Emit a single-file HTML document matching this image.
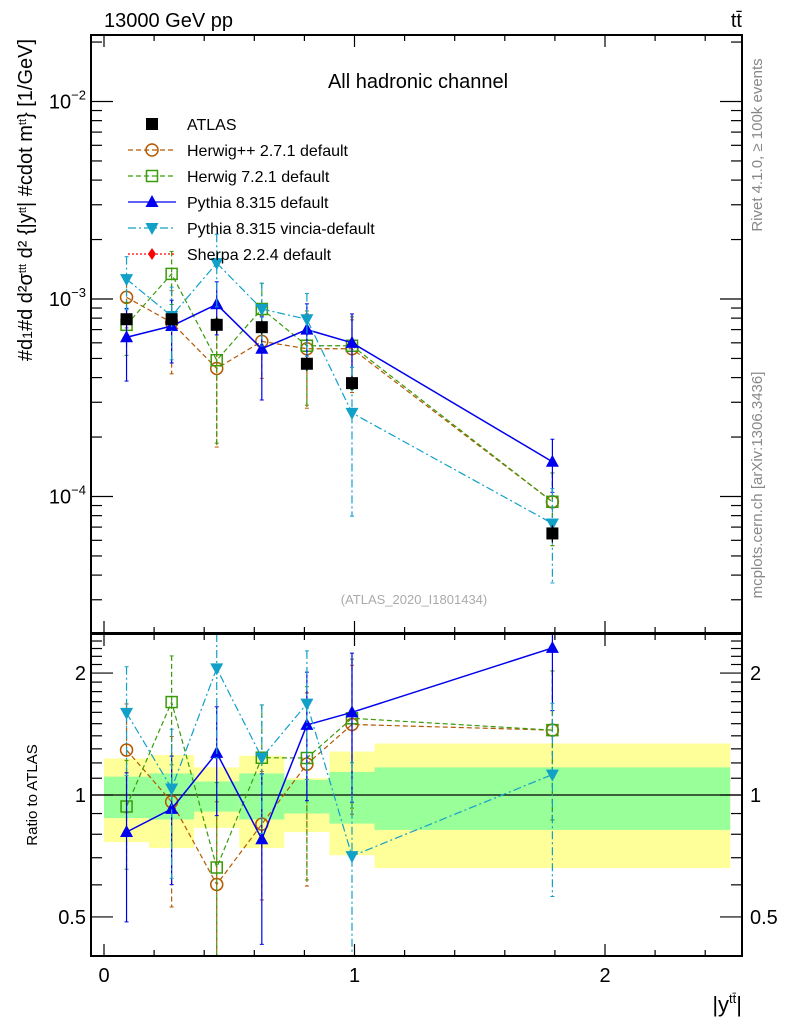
<!DOCTYPE html>
<html><head><meta charset="utf-8"><style>
body{margin:0;background:#fff;}
svg{display:block;font-family:"Liberation Sans",sans-serif;}
</style></head><body>
<svg id="c" width="786" height="1024" xmlns="http://www.w3.org/2000/svg">
<text x="104" y="27" font-size="20">13000 GeV pp</text>
<text x="742" y="27" font-size="20" text-anchor="end">tt̄</text>
<text x="418" y="88" font-size="20" text-anchor="middle">All hadronic channel</text>
<text transform="translate(762,145) rotate(-90)" font-size="15" fill="#888" text-anchor="middle">Rivet 4.1.0, ≥ 100k events</text>
<text transform="translate(762,485) rotate(-90)" font-size="15" fill="#888" text-anchor="middle">mcplots.cern.ch [arXiv:1306.3436]</text>
<text x="414" y="604" font-size="13" fill="#aaa" text-anchor="middle">(ATLAS_2020_I1801434)</text>
<text transform="translate(32,200) rotate(-90)" font-size="20" text-anchor="middle">#d<tspan font-size="14">1</tspan>#d  d²σ<tspan font-size="11" dy="-6">ttt</tspan><tspan dy="6"> d² {|y</tspan><tspan font-size="11" dy="-6">tt</tspan><tspan dy="6">| #cdot m</tspan><tspan font-size="11" dy="-6">tt</tspan><tspan dy="6">} [1/GeV]</tspan></text>
<text transform="translate(37,795) rotate(-90)" font-size="15" text-anchor="middle">Ratio to ATLAS</text>
<text x="742" y="1012" font-size="22" text-anchor="end">|y<tspan font-size="13" dy="-9">tt̄</tspan><tspan dy="9">|</tspan></text>
<g id="g"></g>
</svg>
<script>
const xCenters=[0.09,0.27,0.45,0.63,0.81,0.99,1.79];
const binEdges=[0,0.18,0.36,0.54,0.72,0.9,1.08,2.5];
const atlas=[7.9e-4,7.9e-4,7.4e-4,7.2e-4,4.7e-4,3.75e-4,6.5e-5];
const atlasErr=[0.05,0.05,0.1,0.08,0.08,0.08,0.1];
const herwigpp=[1.02e-3,7.6e-4,4.45e-4,6.1e-4,5.6e-4,5.6e-4,9.4e-5];
const herwigppErr=[0.3,0.45,0.6,0.35,0.5,0.4,0.4];
const herwig7=[7.4e-4,1.34e-3,4.9e-4,8.9e-4,5.8e-4,5.8e-4,9.4e-5];
const herwig7Err=[0.3,0.3,0.62,0.35,0.5,0.4,0.4];
const pythia=[6.4e-4,7.3e-4,9.4e-4,5.6e-4,7.0e-4,6.0e-4,1.5e-4];
const pythiaErr=[0.4,0.35,0.3,0.45,0.35,0.4,0.3];
const vincia=[1.26e-3,8.2e-4,1.52e-3,8.9e-4,7.9e-4,2.65e-4,7.3e-5];
const vinciaErr=[0.3,0.4,0.4,0.35,0.35,0.7,0.5];
const yellowHi=[1.23,1.255,1.17,1.25,1.10,1.28,1.34];
const yellowLo=[0.765,0.74,0.83,0.74,0.81,0.71,0.66];
const greenHi=[1.11,1.13,1.08,1.13,1.09,1.14,1.17];
const greenLo=[0.877,0.87,0.91,0.87,0.90,0.85,0.82];

const NS='http://www.w3.org/2000/svg';
const g=document.getElementById('g');
function el(t,a,p){const e=document.createElementNS(NS,t);for(const k in a)e.setAttribute(k,a[k]);(p||g).appendChild(e);return e;}
const L=91,R=742,T=35,MB=633,RT=634,RB=956;
const X=v=>104+250.5*v;
const Y=v=>299-197.5*Math.log10(v/1e-3);
const YR=r=>795-405*Math.log10(r);
const clampM=y=>Math.max(T,Math.min(MB,y));
const clampR=y=>Math.max(RT,Math.min(RB,y));

for(let i=0;i<7;i++){
  let b=el('rect',{x:X(binEdges[i]),y:YR(yellowHi[i]),width:X(binEdges[i+1])-X(binEdges[i]),height:YR(yellowLo[i])-YR(yellowHi[i]),fill:'#ffff99'});
  
  
}
for(let i=0;i<7;i++){
  let b=el('rect',{x:X(binEdges[i]),y:YR(greenHi[i]),width:X(binEdges[i+1])-X(binEdges[i]),height:YR(greenLo[i])-YR(greenHi[i]),fill:'#99ff99'});
  
  
}
el('line',{x1:L,x2:R,y1:YR(1),y2:YR(1),stroke:'#000','stroke-width':1.2});

function marker(type,x,y,col,p){
  const s=6;
  if(type==='sq')return el('rect',{x:x-s,y:y-s,width:2*s,height:2*s,fill:col},p);
  if(type==='osq')return el('rect',{x:x-5.5,y:y-5.5,width:11,height:11,fill:'none',stroke:col,'stroke-width':1.5},p);
  if(type==='oc')return el('circle',{cx:x,cy:y,r:6,fill:'none',stroke:col,'stroke-width':1.5},p);
  if(type==='tu')return el('polygon',{points:`${x},${y-7} ${x-6.5},${y+5} ${x+6.5},${y+5}`,fill:col},p);
  if(type==='td')return el('polygon',{points:`${x},${y+7} ${x-6.5},${y-5} ${x+6.5},${y-5}`,fill:col},p);
  if(type==='di')return el('polygon',{points:`${x},${y-6} ${x-4},${y} ${x},${y+6} ${x+4},${y}`,fill:col},p);
}
const series=[
 {name:'herwigpp',v:herwigpp,e:herwigppErr,c:'#b35900',m:'oc',d:'5,3'},
 {name:'herwig7',v:herwig7,e:herwig7Err,c:'#3a9a0a',m:'osq',d:'5,3'},
 {name:'pythia',v:pythia,e:pythiaErr,c:'#0000ee',m:'tu',d:''},
 {name:'vincia',v:vincia,e:vinciaErr,c:'#11a0c8',m:'td',d:'8,3,2,3'}
];
function drawSeries(s,ratio){
  const fy=ratio?(v,i)=>clampR(YR(v/atlas[i])):(v,i)=>clampM(Y(v));
  const pts=s.v.map((v,i)=>X(xCenters[i])+','+fy(v,i)).join(' ');
  const pl=el('polyline',{points:pts,fill:'none',stroke:s.c,'stroke-width':s.m==='tu'?1.5:1.2,'stroke-dasharray':s.d});
  
  
  s.v.forEach((v,i)=>{
    const x=X(xCenters[i]);
    const hi=v*(1+s.e[i]),lo=Math.max(v*(1-s.e[i]),1e-9);
    const y1=fy(hi,i),y2=fy(lo,i);
    const eb=el('line',{x1:x,x2:x,y1:y1,y2:y2,stroke:s.c,'stroke-width':1.2,'stroke-dasharray':s.d});
    
    
    el('line',{x1:x-2,x2:x+2,y1:y1,y2:y1,stroke:s.c});
    el('line',{x1:x-2,x2:x+2,y1:y2,y2:y2,stroke:s.c});
    const mk=marker(s.m,x,fy(v,i),s.c);
    
    
  });
}
series.forEach(s=>{drawSeries(s,false);drawSeries(s,true);});
atlas.forEach((v,i)=>{
  const x=X(xCenters[i]);
  el('line',{x1:x,x2:x,y1:Y(v*(1+atlasErr[i])),y2:Y(v*(1-atlasErr[i])),stroke:'#000','stroke-width':1.2});
  const mk=marker('sq',x,Y(v),'#000');
  
  
});

el('rect',{x:L,y:T,width:R-L,height:MB-T,fill:'none',stroke:'#000','stroke-width':2});
el('rect',{x:L,y:RT,width:R-L,height:RB-RT,fill:'none',stroke:'#000','stroke-width':2});
for(let k=0;k<=12;k++){
  const v=k*0.2,x=X(v),maj=(k%5===0),len=maj?12:6;
  [[T,1],[MB,-1],[RT,1],[RB,-1]].forEach(([y,d])=>el('line',{x1:x,x2:x,y1:y,y2:y+d*len,stroke:'#000','stroke-width':1.2}));
}
[0,1,2].forEach(v=>{const t=el('text',{x:X(v),y:982,'font-size':20,'text-anchor':'middle'});t.textContent=v;
 });
for(let e=-5;e<=-2;e++)for(let m=1;m<=9;m++){
  const v=m*Math.pow(10,e),y=Y(v);if(y<T||y>MB)continue;
  const len=m===1?22:11;
  el('line',{x1:L,x2:L+len,y1:y,y2:y,stroke:'#000','stroke-width':1.2});
  el('line',{x1:R,x2:R-len,y1:y,y2:y,stroke:'#000','stroke-width':1.2});
  if(m===1){const t=el('text',{x:86,y:y+7,'font-size':20,'text-anchor':'end'});
    t.innerHTML='10<tspan font-size="13" dy="-9">−'+(-e)+'</tspan>';
    }
}
const rt=[0.4,0.5,0.6,0.7,0.8,0.9,1,1.1,1.2,1.3,1.4,1.5,1.6,1.7,1.8,1.9,2,2.1,2.2,2.3,2.4,2.5];
rt.forEach(r=>{const y=YR(r);if(y<RT||y>RB)return;const maj=[0.5,1,2].includes(r);const len=maj?22:11;
  el('line',{x1:L,x2:L+len,y1:y,y2:y,stroke:'#000','stroke-width':1.2});
  el('line',{x1:R,x2:R-len,y1:y,y2:y,stroke:'#000','stroke-width':1.2});
  if(maj){[[86,'end'],[750,'start']].forEach(([x,a])=>{const t=el('text',{x:x,y:y+7,'font-size':20,'text-anchor':a});t.textContent=r;
    });}
});
const leg=[['ATLAS','#000','sq',''],['Herwig++ 2.7.1 default','#b35900','oc','5,3'],['Herwig 7.2.1 default','#3a9a0a','osq','5,3'],
 ['Pythia 8.315 default','#0000ee','tu',''],['Pythia 8.315 vincia-default','#11a0c8','td','8,3,2,3'],['Sherpa 2.2.4 default','#ff0000','di','2,2']];
leg.forEach((l,i)=>{
  const y=124+26*i;
  const grp=el('g',{});
  
  
  if(i>0)el('line',{x1:128,x2:176,y1:y,y2:y,stroke:l[1],'stroke-width':1.2,'stroke-dasharray':l[3]},grp);
  marker(l[2],152,y,l[1],grp);
  const t=el('text',{x:187,y:y+6,'font-size':16},grp);t.textContent=l[0];
});
</script>
</body></html>
